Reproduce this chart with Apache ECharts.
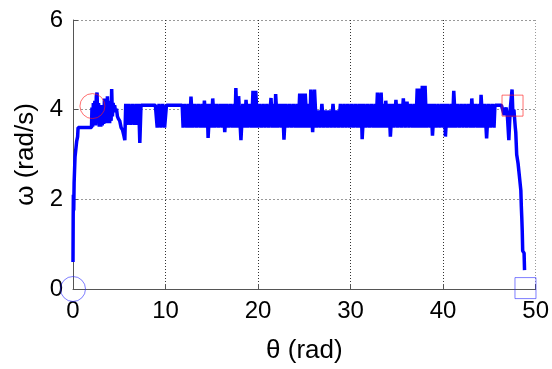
<!DOCTYPE html>
<html>
<head>
<meta charset="utf-8">
<script src="https://cdn.jsdelivr.net/npm/echarts@6/dist/echarts.min.js"></script>
<style>
  html, body { margin: 0; padding: 0; background: #fff; }
  #chart { width: 552px; height: 369px; }
</style>
</head>
<body>
<div id="chart"></div>
<script>
// Phase trajectory ω(θ), split into its stages: [θ (rad), ω (rad/s)]
const spinUp = [
  [0, 0.6], [0.02, 1.6], [0.04, 2.1], [0.08, 1.75], [0.12, 2.36], [0.2, 2.36],
  [0.22, 2.95], [0.35, 2.95], [0.4, 3.3], [0.5, 3.4], [0.55, 3.6], [2.0, 3.6]
];
const overshoot = [
  [2.05,4.05],[2.12,3.62],[2.2,4.15],[2.28,3.65],[2.36,4.2],[2.44,3.65],[2.52,4.3],[2.6,4.38],
  [2.68,3.7],[2.76,4.15],[2.84,3.62],[2.92,4.1],[3.0,3.62],[3.08,4.05],[3.16,3.65],[3.24,4.1],
  [3.32,3.68],[3.4,4.25],[3.48,3.7],[3.56,4.2],[3.64,3.7],[3.72,4.3],[3.8,3.72],[3.88,4.2],
  [3.96,3.7],[4.04,4.2],[4.12,3.75],[4.18,4.46],[4.26,3.85],[4.34,4.15],[4.42,3.95],[4.5,4.1],
  [4.6,3.95],[4.7,4.02],[4.8,3.85],[4.9,3.8],[5.05,3.75],[5.2,3.6],[5.35,3.55],[5.5,3.42],
  [5.6,3.32],[5.7,4.13]
];
const settling = [
  [5.85, 3.66], [6.05, 4.13], [6.25, 3.66], [6.45, 4.13], [6.65, 3.66], [6.85, 4.13],
  [7.0, 3.66], [7.1, 4.13], [7.22, 3.26], [7.35, 4.1], [8.9, 4.1],
  [9.1, 3.6], [9.3, 4.13], [9.5, 3.6], [9.7, 4.13], [9.9, 3.6], [10.1, 4.1], [11.8, 4.1]
];
const chattering = [
  [11.9,3.6],[12.1,4.13],[12.3,3.6],[12.5,4.13],[12.6,3.6],[12.75,4.29],[12.95,3.6],[13.15,4.13],
  [13.35,3.6],[13.55,4.13],[13.75,3.6],[13.95,4.13],[14.05,3.6],[14.2,4.2],[14.4,3.6],[14.5,4.13],
  [14.6,3.37],[14.8,4.13],[14.95,3.6],[15.1,4.25],[15.3,3.6],[15.5,4.13],[15.7,3.6],[15.9,4.13],
  [16.1,3.6],[16.25,4.13],[16.4,3.5],[16.6,4.13],[16.8,3.6],[17.0,4.13],[17.2,3.6],[17.4,4.13],
  [17.5,3.6],[17.6,4.48],[17.75,3.6],[17.9,4.3],[18.15,3.32],[18.35,4.13],[18.55,3.6],[18.7,4.22],
  [18.9,3.6],[19.1,4.13],[19.3,3.6],[19.45,4.42],[19.6,3.6],[19.75,4.42],[19.95,3.6],[20.15,4.13],
  [20.35,3.6],[20.55,4.13],[20.75,3.6],[20.95,4.13],[21.15,3.6],[21.4,4.26],[21.55,3.6],[21.7,4.13],
  [21.8,3.6],[21.9,4.35],[22.1,3.6],[22.3,4.13],[22.5,3.6],[22.65,4.13],[22.8,3.33],[23.0,4.13],
  [23.2,3.6],[23.4,4.13],[23.6,3.6],[23.8,4.13],[24.0,3.6],[24.2,4.13],[24.35,3.6],[24.5,4.36],
  [24.65,3.6],[24.8,4.36],[24.95,3.6],[25.1,4.36],[25.3,3.6],[25.5,4.13],[25.6,3.6],[25.7,4.45],
  [25.9,3.5],[26.1,4.45],[26.3,3.6],[26.5,3.98],[26.7,3.6],[26.9,4.13],[27.1,3.6],[27.3,3.98],
  [27.5,3.6],[27.7,3.98],[27.9,3.6],[28.1,4.13],[28.3,3.6],[28.5,3.98],[28.7,3.6],[28.9,4.13],
  [29.1,3.6],[29.3,4.13],[29.5,3.6],[29.7,4.13],[29.9,3.6],[30.1,4.13],[30.3,3.6],[30.5,4.13],
  [30.7,3.6],[30.9,4.13],[31.05,3.6],[31.15,4.13],[31.25,3.34],[31.45,4.13],[31.65,3.6],[31.85,4.13],
  [32.05,3.6],[32.25,4.13],[32.45,3.6],[32.65,4.13],[32.75,3.6],[32.9,4.38],[33.1,3.6],[33.3,4.38],
  [33.45,3.6],[33.6,4.13],[33.7,3.6],[33.8,4.2],[34.0,3.6],[34.15,4.13],[34.3,3.4],[34.5,4.13],
  [34.7,3.6],[34.9,4.22],[35.1,3.6],[35.3,4.13],[35.5,3.6],[35.7,4.25],[35.9,3.6],[36.1,4.18],
  [36.3,3.6],[36.5,4.13],[36.7,3.6],[36.9,4.13],[37.05,3.6],[37.2,4.47],[37.35,3.6],[37.5,4.47],
  [37.6,3.6],[37.75,4.53],[37.9,3.6],[38.05,4.53],[38.2,3.6],[38.4,4.13],[38.6,3.6],[38.7,4.13],
  [38.85,3.42],[39.05,4.13],[39.25,3.6],[39.45,4.13],[39.65,3.6],[39.85,4.13],[40.05,3.6],[40.15,4.13],
  [40.25,3.4],[40.45,4.13],[40.65,3.6],[40.85,4.13],[41.0,3.6],[41.15,4.42],[41.35,3.6],[41.55,4.13],
  [41.75,3.6],[41.95,4.13],[42.15,3.6],[42.35,4.13],[42.55,3.6],[42.75,4.13],[42.95,3.6],[43.1,4.25],
  [43.3,3.6],[43.5,4.13],[43.7,3.6],[43.9,4.13],[44.0,3.6],[44.1,4.33],[44.3,3.6],[44.5,4.13],
  [44.7,3.36],[44.9,4.13],[45.1,3.6],[45.3,4.13],[45.5,3.6],[45.6,4.1]
];
const braking = [
  [46.3,4.1],[46.6,3.88],[46.8,4.05],[46.95,3.85],[47.1,3.32],[47.25,4.0],[47.45,4.45],
  [47.55,3.85],[47.65,4.0],[47.8,3.6],[47.85,3.5],[47.95,3.0],[48.1,2.8],[48.25,2.5],
  [48.4,2.2],[48.45,1.85],[48.5,1.6],[48.55,1.3],[48.6,0.85],[48.75,0.8],[48.8,0.42]
];

// Start/target markers
const initialState = [[0, 0]];
const switchOnState = [[2.1, 4.08]];
const switchOffState = [[47.5, 4.09]];
const finalState = [[48.9, 0.02]];

// Axis ticks
const thetaTicks = [0, 10, 20, 30, 40, 50];
const omegaTicks = [0, 2, 4, 6];

const trajectory = [].concat(spinUp, overshoot, settling, chattering, braking);

const font = '"Liberation Sans", Arial, sans-serif';
const chart = echarts.init(document.getElementById('chart'), null, { renderer: 'canvas' });

function marker(data, symbol, size, color) {
  return {
    type: 'scatter',
    data: data,
    symbol: symbol,
    symbolSize: size,
    silent: true,
    z: 5,
    itemStyle: { color: 'rgba(0,0,0,0)', borderColor: color, borderWidth: 1 }
  };
}

chart.setOption({
  animation: false,
  backgroundColor: '#ffffff',
  grid: { left: 73, right: 15, top: 20, bottom: 80 },
  xAxis: {
    type: 'value',
    min: thetaTicks[0],
    max: thetaTicks[thetaTicks.length - 1],
    interval: 10,
    name: 'θ (rad)',
    nameLocation: 'middle',
    nameGap: 49,
    nameTextStyle: { fontFamily: font, fontSize: 26, color: '#000' },
    axisLine: { show: true, onZero: false, lineStyle: { color: '#555', width: 1 } },
    axisTick: { show: true, inside: true, length: 5, lineStyle: { color: '#555' } },
    axisLabel: { fontFamily: font, fontSize: 24, color: '#000', margin: 10 },
    splitLine: { show: true, lineStyle: { color: ['#333', '#333', '#333', '#333', '#333', '#999'], type: [1, 2], width: 1 } }
  },
  yAxis: {
    type: 'value',
    min: omegaTicks[0],
    max: omegaTicks[omegaTicks.length - 1],
    interval: 2,
    name: 'ω (rad/s)',
    nameLocation: 'middle',
    nameGap: 33,
    nameTextStyle: { fontFamily: font, fontSize: 26, color: '#000' },
    axisLine: { show: true, onZero: false, lineStyle: { color: '#555', width: 1 } },
    axisTick: { show: true, inside: true, length: 5, lineStyle: { color: '#555' } },
    axisLabel: { fontFamily: font, fontSize: 24, color: '#000', margin: 10 },
    splitLine: { show: true, lineStyle: { color: '#999', type: [2, 2], width: 1 } }
  },
  series: [
    {
      type: 'line',
      data: trajectory,
      showSymbol: false,
      symbol: 'none',
      silent: true,
      z: 3,
      lineStyle: { color: '#0000ff', width: 3.5, join: 'bevel' }
    },
    marker(initialState, 'circle', 25, 'rgba(40,40,255,0.75)'),
    marker(switchOnState, 'circle', 25, 'rgba(255,30,30,0.8)'),
    marker(switchOffState, 'rect', 21, 'rgba(255,30,30,0.8)'),
    marker(finalState, 'rect', 21, 'rgba(40,40,255,0.75)')
  ]
});
</script>
</body>
</html>
